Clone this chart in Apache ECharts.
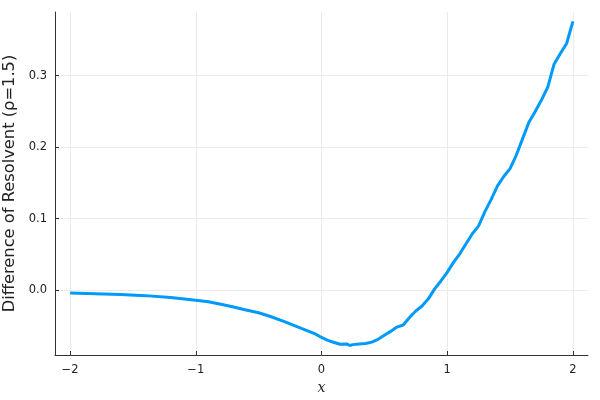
<!DOCTYPE html>
<html><head><meta charset="utf-8">
<script src="https://cdn.jsdelivr.net/npm/echarts@6/dist/echarts.min.js"></script>
<style>html,body{margin:0;padding:0;background:#fff}#c{width:600px;height:400px}</style>
</head><body><div id="c"></div>
<script>
const xValues = [-2.0,-1.8,-1.6,-1.4,-1.2,-1.0,-0.9,-0.8,-0.7,-0.6,-0.5,-0.4,-0.3,-0.2,-0.1,-0.05,0.0,0.05,0.1,0.15,0.2,0.225,0.25,0.3,0.35,0.4,0.45,0.5,0.55,0.6,0.65,0.7,0.75,0.8,0.85,0.9,0.95,1.0,1.05,1.1,1.15,1.2,1.25,1.3,1.35,1.4,1.45,1.5,1.55,1.6,1.65,1.7,1.75,1.8,1.85,1.9,1.95,2.0];
const yValues = [-0.0040,-0.0050,-0.0060,-0.0075,-0.0100,-0.0140,-0.0160,-0.0195,-0.0235,-0.0275,-0.0315,-0.0370,-0.0435,-0.0505,-0.0575,-0.0610,-0.0660,-0.0700,-0.0730,-0.0755,-0.0750,-0.0772,-0.0760,-0.0752,-0.0745,-0.0725,-0.0685,-0.0630,-0.0575,-0.0515,-0.0485,-0.0380,-0.0290,-0.0220,-0.0120,0.0020,0.0130,0.0250,0.0390,0.0510,0.0650,0.0790,0.0900,0.1100,0.1270,0.1460,0.1590,0.1700,0.1890,0.2120,0.2350,0.2500,0.2660,0.2840,0.3160,0.3310,0.3450,0.3760];
const xTicks = [-2,-1,0,1,2];
const yTicks = [0,0.1,0.2,0.3];
const xLabel = 'x';
const yLabel = 'Difference of Resolvent (ρ=1.5)';

const chart = echarts.init(document.getElementById('c'));
const data = xValues.map((x,i)=>[x,yValues[i]]);
const grid = '#ebebeb';
chart.setOption({
  animation:false,
  grid:{left:55,right:12,top:12,bottom:45,containLabel:false,outerBoundsMode:'none'},
  xAxis:{type:'value',min:-2.12,max:2.12,
    name:xLabel,nameLocation:'middle',nameGap:22,
    nameTextStyle:{fontFamily:'DejaVu Serif',fontStyle:'italic',fontSize:14,color:'#222'},
    axisLine:{show:true,onZero:false,lineStyle:{color:'#333',width:1}},
    axisTick:{show:true,inside:true,length:4,customValues:xTicks,lineStyle:{color:'#333'}},
    axisLabel:{customValues:xTicks,color:'#222',fontSize:11.5,fontFamily:'DejaVu Sans',margin:9,
      formatter:v=>String(v).replace('-','\u2212')},
    splitLine:{show:true,lineStyle:{color:grid,width:1}}},
  yAxis:{type:'value',min:-0.0905,max:0.389,
    name:yLabel,nameLocation:'middle',nameGap:28,
    nameTextStyle:{fontFamily:'DejaVu Sans',fontSize:16.3,color:'#222'},
    axisLine:{show:true,onZero:false,lineStyle:{color:'#333',width:1}},
    axisTick:{show:true,inside:true,length:4,customValues:yTicks,lineStyle:{color:'#333'}},
    axisLabel:{customValues:yTicks,color:'#222',fontSize:11.5,fontFamily:'DejaVu Sans',margin:8,
      formatter:v=>v.toFixed(1)},
    splitLine:{show:true,lineStyle:{color:grid,width:1}}},
  series:[
    {type:'line',data:data,showSymbol:false,smooth:false,z:3,
      lineStyle:{color:'#009AFA',width:3}}]
});
</script></body></html>
